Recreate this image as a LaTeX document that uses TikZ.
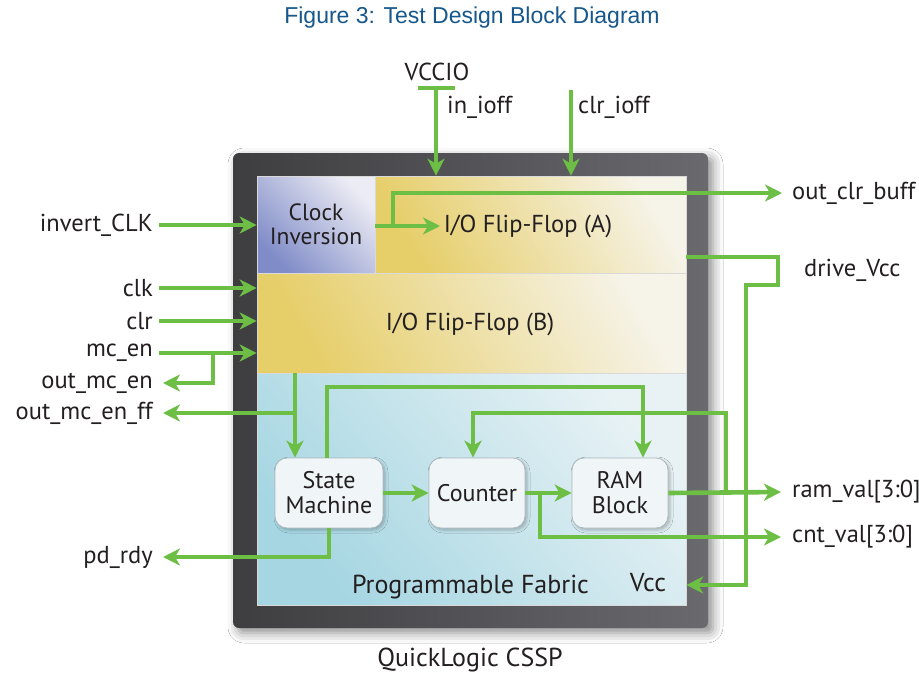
\documentclass[tikz,border=0pt]{standalone}
\usepackage{fontspec}
\setmainfont{PT Sans}
\newfontfamily\titlefont{Liberation Sans}
\usetikzlibrary{arrows.meta,shadows.blur,calc}
\definecolor{sig}{RGB}{108,190,69}
\definecolor{ink}{RGB}{35,31,32}
\definecolor{ttl}{RGB}{22,88,140}
\definecolor{frameL}{RGB}{62,62,65}
\definecolor{frameR}{RGB}{105,105,110}
\definecolor{yelD}{RGB}{230,206,105}
\definecolor{yelL}{RGB}{246,243,232}
\definecolor{bluD}{RGB}{128,140,200}
\definecolor{bluL}{RGB}{236,236,244}
\definecolor{fabD}{RGB}{165,214,226}
\definecolor{fabL}{RGB}{232,242,245}
\definecolor{boxF}{RGB}{240,246,248}
\definecolor{boxB}{RGB}{175,185,190}
\begin{document}
\begin{tikzpicture}[x=1pt,y=-1pt,
  lab/.style={font=\fontsize{24.5}{26}\selectfont, text=ink, inner sep=0pt},
  blk/.style={font=\fontsize{24}{26}\selectfont, text=ink, align=center},
  wire/.style={draw=sig, line width=4.6pt},
  arr/.style={wire, -{Stealth[length=17pt,width=17pt,inset=5pt]}},
  region/.style={draw=white!70!gray, line width=0.6pt, inner sep=0pt},
  func/.style={draw=boxB, line width=0.8pt, fill=boxF, rounded corners=12pt, inner sep=0pt,
    blur shadow={shadow xshift=2pt, shadow yshift=-2pt, shadow blur radius=3pt, shadow opacity=25},
    font=\fontsize{24}{25}\selectfont, text=ink, align=center}]
\useasboundingbox (0,0) rectangle (919,675);
\fill[white] (0,0) rectangle (919,675);

% title
\node[font=\titlefont\fontsize{23}{25}\selectfont, text=ttl] (title) at (472,18) {Figure 3: Test Design Block Diagram};

% frame
\path[rounded corners=6pt, left color=frameL, right color=frameR,
  blur shadow={shadow xshift=5pt, shadow yshift=-5pt, shadow blur radius=10pt, shadow opacity=45}]
  (233,153) rectangle (708,628);
\node[inner sep=0pt, minimum width=475pt, minimum height=475pt] (frame) at (470.5,390.5) {};

% regions
\node[region, minimum width=118pt, minimum height=97pt, shading=axis, bottom color=bluD, top color=bluL, shading angle=-45] (clkinv) at (316,224.5) {};
\node[region, minimum width=311pt, minimum height=97pt, shading=axis, bottom color=yelD, top color=yelL, shading angle=-60] (ffa) at (530.5,224.5) {};
\node[region, minimum width=429pt, minimum height=100pt, shading=axis, bottom color=yelD, top color=yelL, shading angle=-60] (ffb) at (471.5,323) {};
\node[region, minimum width=429pt, minimum height=232pt, shading=axis, bottom color=fabD, top color=fabL, shading angle=-50] (fabric) at (471.5,489) {};

\node[blk, font=\fontsize{23.5}{24}\selectfont] at (clkinv.center) {Clock\\Inversion};
\node[blk, font=\fontsize{24.5}{26}\selectfont] (ffatxt) at (528,226) {I/O Flip-Flop (A)};
\node[blk, font=\fontsize{24.5}{26}\selectfont] (ffbtxt) at (470,324) {I/O Flip-Flop (B)};
\node[blk, font=\fontsize{26}{28}\selectfont] (fabtxt) at (470.5,587) {Programmable Fabric};
\node[blk, font=\fontsize{26}{28}\selectfont] (vcc) at (648,583) {Vcc};
\node[blk, font=\fontsize{26}{28}\selectfont] (chip) at (470,660) {QuickLogic CSSP};

% functional blocks
\node[func, minimum width=108pt, minimum height=70pt] (sm) at (329,493) {State\\Machine};
\node[func, minimum width=96pt, minimum height=70pt] (cnt) at (477,493) {Counter};
\node[func, minimum width=96pt, minimum height=70pt] (ram) at (620,493) {RAM\\Block};

% labels
\node[lab, anchor=east] (linv) at (153,225) {invert\_CLK};
\node[lab, anchor=east] (lclk) at (153,288) {clk};
\node[lab, anchor=east] (lclr) at (153,321) {clr};
\node[lab, anchor=east] (lmc) at (153,353) {mc\_en};
\node[lab, anchor=east] (lomc) at (153,383) {out\_mc\_en};
\node[lab, anchor=east] (lomcff) at (153,413) {out\_mc\_en\_ff};
\node[lab, anchor=east] (lpd) at (153,557) {pd\_rdy};
\node[lab, anchor=west] (locb) at (792,193) {out\_clr\_buff};
\node[lab, anchor=west] (ldrv) at (804,270) {drive\_Vcc};
\node[lab, anchor=west] (lram) at (792,492) {ram\_val[3:0]};
\node[lab, anchor=west] (lcnt) at (792,537) {cnt\_val[3:0]};
\node[lab] (lvccio) at (437,72) {VCCIO};
\node[lab, anchor=west] (linioff) at (447,107) {in\_ioff};
\node[lab, anchor=west] (lclrioff) at (578,107) {clr\_ioff};

% top signals
\coordinate (vbarL) at (418,88);
\coordinate (vbarR) at (455,88);
\draw[wire] (vbarL) -- (vbarR);
\draw[arr] (436,88) -- (436,88 |- ffa.north);
\draw[arr] (571,90) -- (571,90 |- ffa.north);

% left inputs
\draw[arr] ($(linv.east)+(6,0)$) -- (linv.east -| clkinv.west);
\draw[arr] ($(lclk.east)+(6,0)$) -- (lclk.east -| ffb.west);
\draw[arr] ($(lclr.east)+(6,0)$) -- (lclr.east -| ffb.west);
\draw[arr] ($(lmc.east)+(6,0)$) -- (lmc.east -| ffb.west);
\draw[arr] (213,353) |- ($(lomc.east)+(10,0)$);

% clock inversion to ffa and out_clr_buff
\draw[arr] (clkinv.east |- 0,226) -- (440,226);
\draw[arr] (393,226) |- ($(locb.west)+(-10,0)$);

% ffb to state machine, out_mc_en_ff
\draw[arr] (295,373) -- (295,373 |- sm.north);
\draw[arr] (295,413) -- ($(lomcff.east)+(10,0)$);

% fabric internals
\draw[arr] (sm.east) -- (cnt.west);
\draw[arr] (cnt.east) -- (ram.west);
\draw[arr] (327,0 |- sm.north) |- (643,387) -- (643,0 |- ram.north);
\draw[arr] (ram.east) -- ($(lram.west)+(-11,0)$);
\draw[arr] (726,492) |- (473,413) -- (473,0 |- cnt.north);
\draw[arr] (540,493) |- ($(lcnt.west)+(-11,0)$);
\draw[arr] (329,0 |- sm.south) |- ($(lpd.east)+(10,0)$);

% drive_Vcc
\draw[arr] (ffa.east |- 0,257) -- (778,257) -- (778,285) -- (746,285) |- (fabric.east |- 0,585);

\end{tikzpicture}
\end{document}
